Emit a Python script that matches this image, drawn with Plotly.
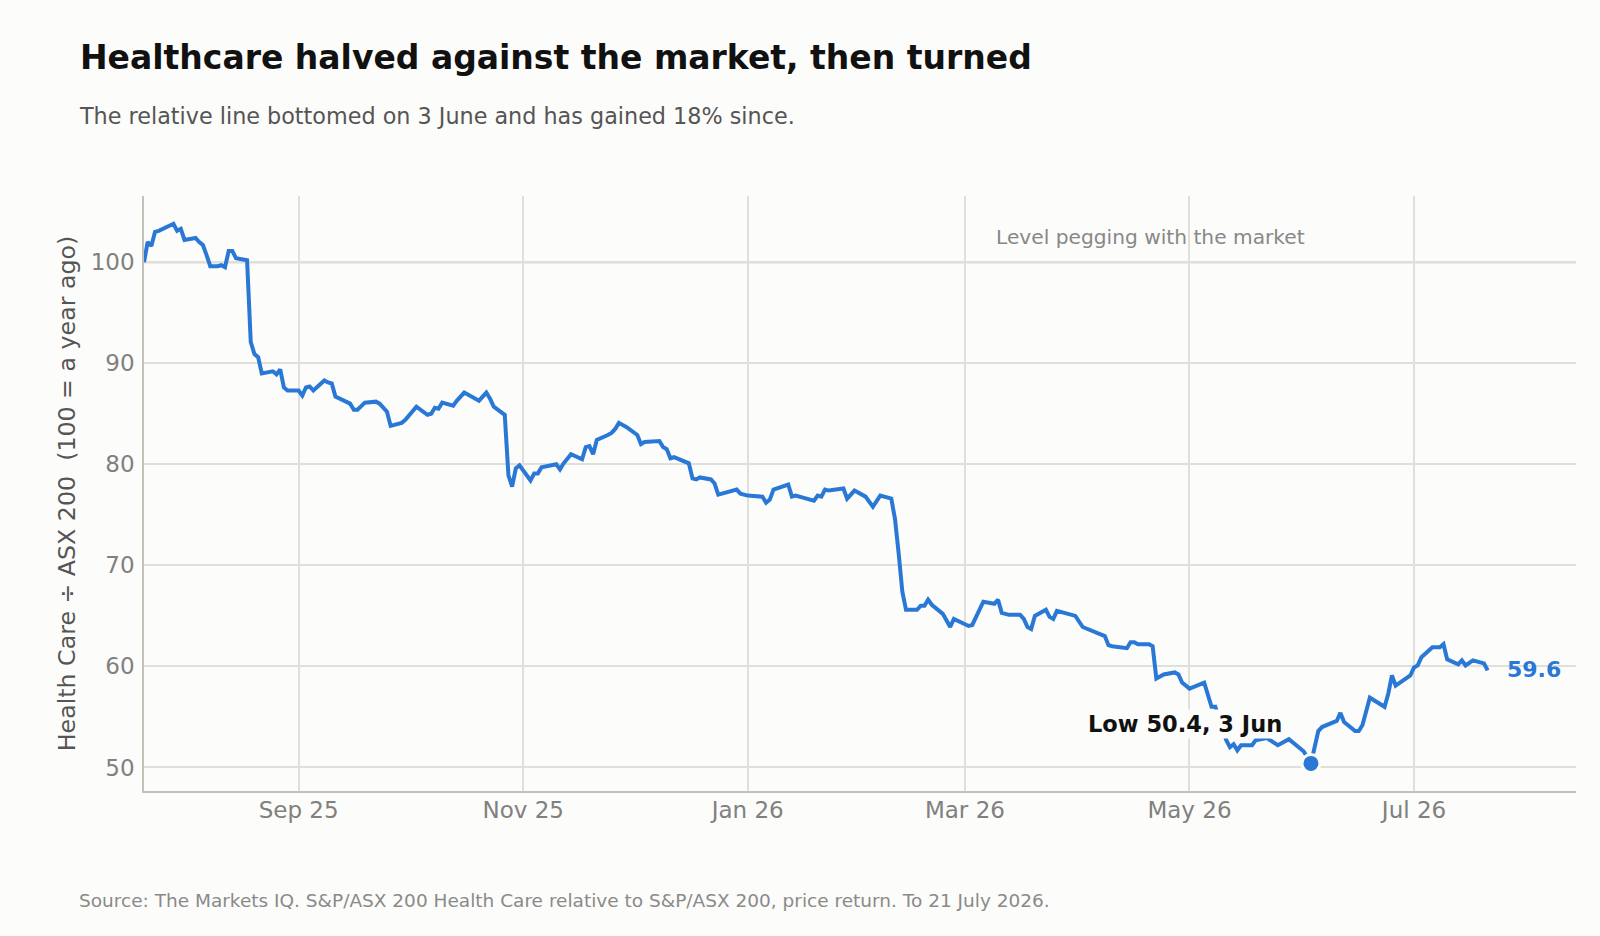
import plotly.graph_objects as go

# ---------------- data ----------------
dates = [
    "2025-07-21", "2025-07-22", "2025-07-23", "2025-07-24", "2025-07-25", "2025-07-27",
    "2025-07-29", "2025-07-30", "2025-07-31", "2025-08-01", "2025-08-04", "2025-08-05",
    "2025-08-06", "2025-08-07", "2025-08-08", "2025-08-10", "2025-08-11", "2025-08-12",
    "2025-08-13", "2025-08-14", "2025-08-15", "2025-08-18", "2025-08-19", "2025-08-20",
    "2025-08-21", "2025-08-22", "2025-08-25", "2025-08-26", "2025-08-27", "2025-08-28",
    "2025-08-29", "2025-09-01", "2025-09-02", "2025-09-03", "2025-09-04", "2025-09-05",
    "2025-09-08", "2025-09-09", "2025-09-10", "2025-09-11", "2025-09-12", "2025-09-15",
    "2025-09-16", "2025-09-17", "2025-09-19", "2025-09-22", "2025-09-23", "2025-09-25",
    "2025-09-26", "2025-09-29", "2025-09-30", "2025-10-03", "2025-10-06", "2025-10-07",
    "2025-10-08", "2025-10-09", "2025-10-10", "2025-10-13", "2025-10-14", "2025-10-16",
    "2025-10-20", "2025-10-22", "2025-10-23", "2025-10-24", "2025-10-27", "2025-10-28",
    "2025-10-29", "2025-10-30", "2025-10-31", "2025-11-03", "2025-11-04", "2025-11-05",
    "2025-11-06", "2025-11-10", "2025-11-11", "2025-11-12", "2025-11-14", "2025-11-17",
    "2025-11-18", "2025-11-19", "2025-11-20", "2025-11-21", "2025-11-24", "2025-11-25",
    "2025-11-26", "2025-11-27", "2025-11-29", "2025-12-02", "2025-12-03", "2025-12-04",
    "2025-12-08", "2025-12-09", "2025-12-10", "2025-12-11", "2025-12-12", "2025-12-15",
    "2025-12-16", "2025-12-17", "2025-12-18", "2025-12-19", "2025-12-22", "2025-12-23",
    "2025-12-24", "2025-12-29", "2025-12-30", "2026-01-01", "2026-01-05", "2026-01-06",
    "2026-01-07", "2026-01-08", "2026-01-09", "2026-01-12", "2026-01-13", "2026-01-14",
    "2026-01-16", "2026-01-19", "2026-01-20", "2026-01-21", "2026-01-22", "2026-01-23",
    "2026-01-27", "2026-01-28", "2026-01-30", "2026-02-02", "2026-02-04", "2026-02-06",
    "2026-02-09", "2026-02-10", "2026-02-11", "2026-02-12", "2026-02-13", "2026-02-16",
    "2026-02-17", "2026-02-18", "2026-02-19", "2026-02-20", "2026-02-23", "2026-02-25",
    "2026-02-26", "2026-03-02", "2026-03-03", "2026-03-04", "2026-03-06", "2026-03-09",
    "2026-03-10", "2026-03-11", "2026-03-13", "2026-03-16", "2026-03-17", "2026-03-18",
    "2026-03-19", "2026-03-20", "2026-03-21", "2026-03-23", "2026-03-24", "2026-03-25",
    "2026-03-26", "2026-03-27", "2026-03-30", "2026-03-31", "2026-04-02", "2026-04-07",
    "2026-04-08", "2026-04-09", "2026-04-10", "2026-04-14", "2026-04-15", "2026-04-16",
    "2026-04-17", "2026-04-20", "2026-04-21", "2026-04-22", "2026-04-24", "2026-04-27",
    "2026-04-28", "2026-04-29", "2026-05-01", "2026-05-05", "2026-05-06", "2026-05-07",
    "2026-05-08", "2026-05-10", "2026-05-11", "2026-05-12", "2026-05-13", "2026-05-14",
    "2026-05-15", "2026-05-18", "2026-05-19", "2026-05-22", "2026-05-25", "2026-05-28",
    "2026-06-01", "2026-06-03", "2026-06-05", "2026-06-06", "2026-06-10", "2026-06-11",
    "2026-06-12", "2026-06-15", "2026-06-16", "2026-06-17", "2026-06-19", "2026-06-23",
    "2026-06-24", "2026-06-25", "2026-06-26", "2026-06-30", "2026-07-01", "2026-07-02",
    "2026-07-03", "2026-07-06", "2026-07-08", "2026-07-09", "2026-07-10", "2026-07-13",
    "2026-07-14", "2026-07-15", "2026-07-17", "2026-07-20", "2026-07-21",
]

relative = [
    100.0, 102.0, 101.6, 103.0, 103.1, 103.5,
    103.8, 103.1, 103.3, 102.2, 102.4, 102.0,
    101.7, 100.7, 99.6, 99.6, 99.7, 99.5,
    101.1, 101.1, 100.4, 100.2, 92.1, 90.9,
    90.6, 89.0, 89.2, 88.9, 89.4, 87.6,
    87.3, 87.3, 86.8, 87.6, 87.7, 87.3,
    88.3, 88.1, 88.0, 86.7, 86.5, 86.0,
    85.4, 85.4, 86.1, 86.2, 86.0, 85.2,
    83.8, 84.1, 84.4, 85.7, 84.9, 85.0,
    85.6, 85.5, 86.1, 85.8, 86.3, 87.1,
    86.3, 87.1, 86.5, 85.7, 84.9, 78.9,
    77.8, 79.6, 79.9, 78.4, 79.1, 79.1,
    79.7, 80.0, 79.5, 80.1, 81.0, 80.5,
    81.7, 81.8, 81.0, 82.4, 82.9, 83.1,
    83.5, 84.1, 83.7, 82.9, 82.0, 82.2,
    82.3, 81.7, 81.5, 80.6, 80.7, 80.3,
    80.1, 78.6, 78.5, 78.7, 78.5, 78.1,
    77.0, 77.5, 77.1, 76.9, 76.8, 76.2,
    76.5, 77.5, 77.6, 78.0, 76.8, 76.9,
    76.7, 76.4, 76.9, 76.8, 77.5, 77.4,
    77.6, 76.6, 77.4, 76.8, 75.8, 76.9,
    76.6, 74.6, 71.2, 67.4, 65.6, 65.6,
    66.0, 66.0, 66.6, 66.1, 65.2, 63.9,
    64.7, 64.0, 64.1, 64.9, 66.4, 66.2,
    66.6, 65.3, 65.1, 65.1, 64.7, 63.9,
    63.7, 65.0, 65.2, 65.6, 64.9, 64.7,
    65.5, 65.4, 65.0, 65.0, 63.9, 63.2,
    63.0, 62.1, 62.0, 61.8, 62.4, 62.4,
    62.2, 62.2, 62.0, 58.8, 59.2, 59.4,
    59.2, 58.4, 57.8, 58.4, 57.3, 56.0,
    56.0, 53.6, 52.7, 52.0, 52.3, 51.7,
    52.2, 52.2, 52.7, 52.9, 52.2, 52.8,
    51.6, 50.4, 53.6, 54.0, 54.6, 55.4,
    54.5, 53.6, 53.6, 54.2, 56.9, 56.0,
    57.3, 59.1, 58.1, 59.1, 59.9, 60.1,
    60.9, 61.9, 61.9, 62.2, 60.7, 60.2,
    60.6, 60.1, 60.6, 60.3, 59.6,
]

y_ticks = [50, 60, 70, 80, 90, 100]
parity_level = 100

title_text = "Healthcare halved against the market, then turned"
subtitle_text = "The relative line bottomed on 3 June and has gained 18% since."
source_text = ("Source: The Markets IQ. S&P/ASX 200 Health Care relative to S&P/ASX 200, "
               "price return. To 21 July 2026.")
y_title = "Health Care \u00f7 ASX 200\u00a0 (100 = a year ago)"
parity_label = "Level pegging with the market"

# ---------------- style ----------------
BG = "#fcfcfa"
BLUE = "#2a78d6"
GRID = "#e0e0da"
AXIS = "#c2c2b8"
PARITY = "#bdbdae"
FONT = "DejaVu Sans"

W, H = 1600, 936
L, R, T, B = 144, 24, 196, 145
plot_w = W - L - R
plot_h = H - T - B


def px_x(x):
    return (x - L) / plot_w


def px_y(y):
    return (H - B - y) / plot_h


low_i = relative.index(min(relative))
low_date, low_val = dates[low_i], relative[low_i]
last_date, last_val = dates[-1], relative[-1]

fig = go.Figure()

fig.add_shape(type="line", xref="paper", x0=0, x1=1, yref="y",
              y0=parity_level, y1=parity_level,
              line=dict(color=PARITY, width=2.2), layer="between")

fig.add_trace(go.Scatter(
    x=dates, y=relative, mode="lines",
    line=dict(color=BLUE, width=4),
    hoverinfo="skip", showlegend=False,
))

fig.add_trace(go.Scatter(
    x=[low_date], y=[low_val], mode="markers",
    marker=dict(size=18, color=BLUE, line=dict(color=BG, width=3)),
    hoverinfo="skip", showlegend=False,
))

annotations = [
    dict(text="<b>%s</b>" % title_text, xref="paper", yref="paper",
         x=px_x(78), y=px_y(58), xanchor="left", yanchor="middle",
         showarrow=False, font=dict(family=FONT, size=33, color="#111111")),
    dict(text=subtitle_text, xref="paper", yref="paper",
         x=px_x(77), y=px_y(116), xanchor="left", yanchor="middle",
         showarrow=False, font=dict(family=FONT, size=22.3, color="#555555")),
    dict(text=source_text, xref="paper", yref="paper",
         x=px_x(77), y=px_y(900), xanchor="left", yanchor="middle",
         showarrow=False, font=dict(family=FONT, size=18.5, color="#8a8a8a")),
    dict(text=parity_label, xref="x", yref="y",
         x="2026-06-01", y=parity_level, xanchor="right", yanchor="bottom",
         xshift=3, yshift=11, showarrow=False,
         font=dict(family=FONT, size=20.2, color="#888888")),
    dict(text="<b>Low %.1f, 3 Jun</b>" % low_val, xref="x", yref="y",
         x=low_date, y=low_val, xanchor="right", yanchor="middle",
         xshift=-27, yshift=39, showarrow=False, bgcolor=BG,
         font=dict(family=FONT, size=22.5, color="#111111")),
    dict(text="<b>%.1f</b>" % last_val, xref="x", yref="y",
         x=last_date, y=last_val, xanchor="left", yanchor="middle",
         xshift=17, yshift=1, showarrow=False,
         font=dict(family=FONT, size=22, color=BLUE)),
]

fig.update_layout(
    width=W, height=H, autosize=False,
    margin=dict(l=L, r=R, t=T, b=B),
    paper_bgcolor=BG, plot_bgcolor=BG,
    font=dict(family=FONT),
    showlegend=False,
    annotations=annotations,
)

fig.update_xaxes(
    type="date", range=["2025-07-21", "2026-08-14"],
    tick0="2025-09-01", dtick="M2", tickformat="%b %y",
    showgrid=True, gridcolor=GRID, gridwidth=1.5,
    showline=True, linecolor=AXIS, linewidth=1.5,
    ticks="", zeroline=False, ticklabelstandoff=-2,
    tickfont=dict(family=FONT, size=23, color="#808080"),
)

fig.update_yaxes(
    range=[47.67, 106.55], tickvals=y_ticks,
    showgrid=True, gridcolor=GRID, gridwidth=1.5,
    showline=True, linecolor=AXIS, linewidth=1.5,
    ticks="", zeroline=False, ticklabelstandoff=3,
    tickfont=dict(family=FONT, size=23, color="#808080"),
    title=dict(text=y_title, font=dict(family=FONT, size=23.7, color="#555555"),
               standoff=8),
)

fig.write_html("out.html")
